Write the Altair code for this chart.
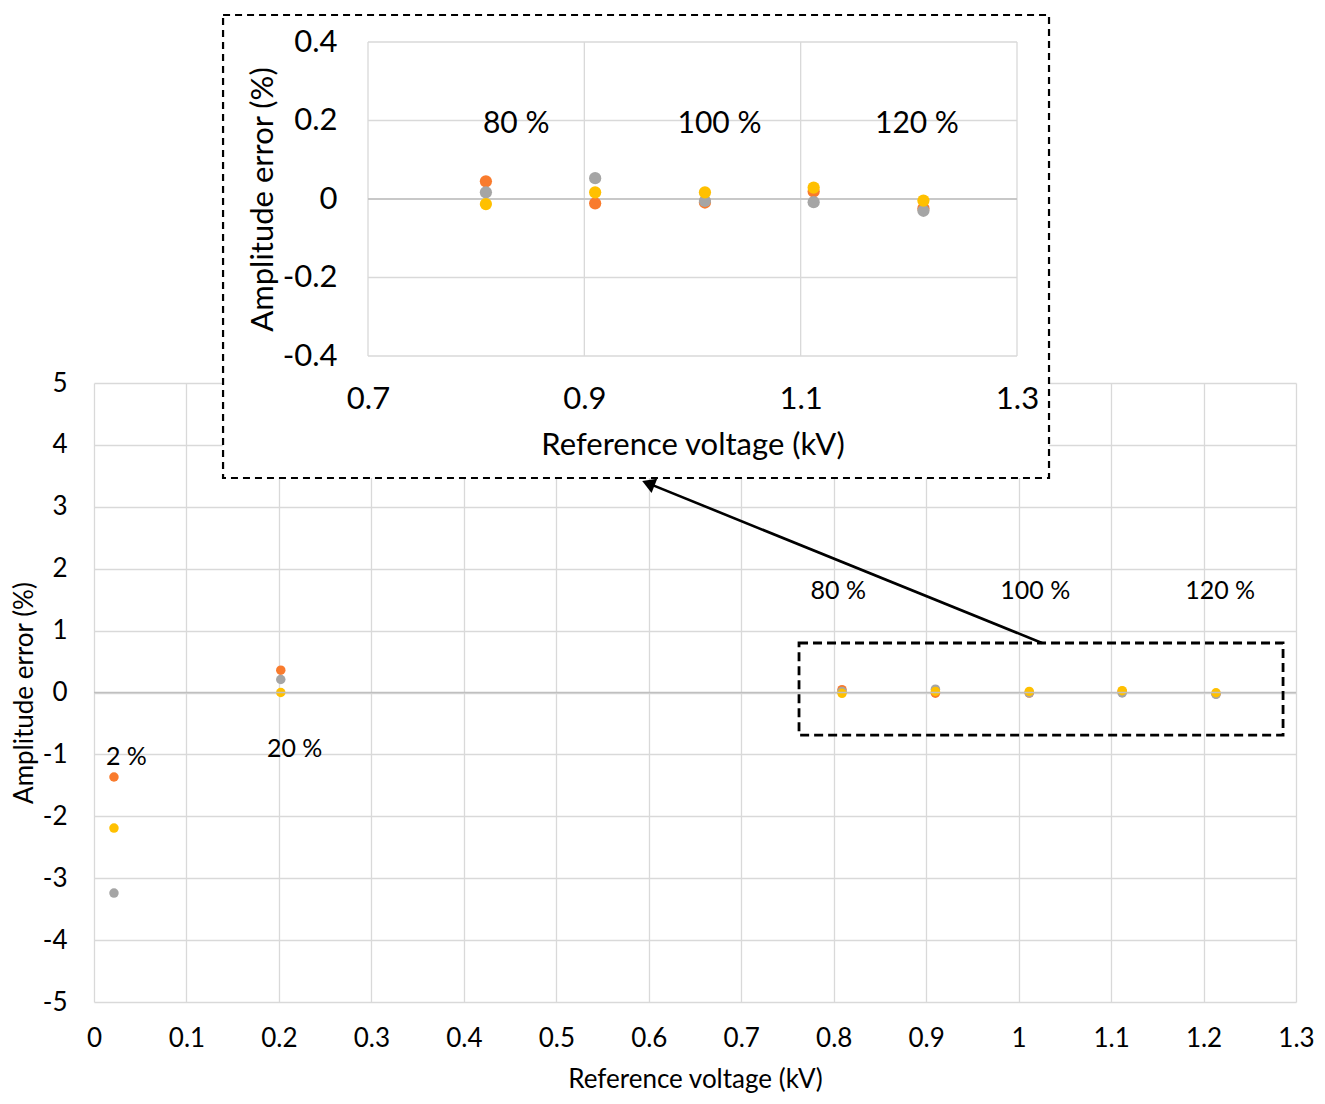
import altair as alt
import pandas as pd

# ---------------- data ----------------
x_kv = [0.0216, 0.202, 0.809, 0.910, 1.0115, 1.112, 1.2135]
err_orange = [-1.365, 0.36, 0.045, -0.011, -0.009, 0.019, -0.024]
err_gray = [-3.24, 0.21, 0.017, 0.053, -0.005, -0.008, -0.030]
err_yellow = [-2.19, 0.00, -0.013, 0.017, 0.017, 0.029, -0.004]
series_names = ["orange", "gray", "yellow"]
series_colors = ["#F97B2D", "#A5A5A5", "#FFC000"]

main_xticks = [round(i * 0.1, 1) for i in range(14)]
main_yticks = [-5, -4, -3, -2, -1, 0, 1, 2, 3, 4, 5]
inset_xticks = [0.7, 0.9, 1.1, 1.3]
inset_yticks = [-0.4, -0.2, 0.0, 0.2, 0.4]

main_labels = ["2 %", "20 %", "80 %", "100 %", "120 %"]
main_label_x = [0.035, 0.217, 0.805, 1.018, 1.218]
main_label_y = [-1.04, -0.91, 1.64, 1.64, 1.64]

inset_labels = ["80 %", "100 %", "120 %"]
inset_label_x = [0.837, 1.025, 1.2075]
inset_label_y = [0.19, 0.19, 0.19]

zoom_box_x = [0.7625, 1.286]
zoom_box_y = [-0.687, 0.80]
arrow_x = [1.0253, 0.5995]
arrow_y = [0.80, 3.378]
inset_box_x = [0.566, 1.3296]
inset_box_y = [-0.7108, 0.4688]

FONT = "Lato"
MAIN_FS = 26
INSET_FS = 31

# ---------------- tables ----------------
rows = []
for name, vals in zip(series_names, [err_orange, err_gray, err_yellow]):
    for xv, yv in zip(x_kv, vals):
        rows.append({"x": xv, "y": yv, "series": name})
pts = pd.DataFrame(rows)
pts_inset = pts[pts["x"] >= 0.7].reset_index(drop=True)

color = alt.Color("series:N", scale=alt.Scale(domain=series_names, range=series_colors), legend=None)
label_fix = "replace(datum.label, '\u2212', '-')"


def MX():
    return alt.Scale(domain=[0, 1.3], nice=False, zero=False)


def MY():
    return alt.Scale(domain=[-5, 5], nice=False, zero=False)


def IX():
    return alt.Scale(domain=[0.7, 1.3], range=[274, 923], nice=False, zero=False)


def IY():
    return alt.Scale(domain=[-0.4, 0.4], range=[-27, -341], nice=False, zero=False)


# ---------------- main chart ----------------
main_points = alt.Chart(pts).mark_circle(size=90, opacity=1).encode(
    x=alt.X("x:Q", scale=MX(), axis=alt.Axis(
        values=main_xticks, format="~g", labelExpr=label_fix, grid=True,
        gridColor="#d9d9d9", gridWidth=1.3, domain=False, ticks=False,
        labelPadding=23, labelFontSize=MAIN_FS, labelFont=FONT, labelColor="#000",
        labelFlush=False, title="Reference voltage (kV)", titleFont=FONT,
        titleFontSize=MAIN_FS, titleFontWeight="normal", titleColor="#000",
        titlePadding=15)),
    y=alt.Y("y:Q", scale=MY(), axis=alt.Axis(
        values=main_yticks, format="~g", labelExpr=label_fix, grid=True,
        gridColor="#d9d9d9", gridWidth=1.3, domain=False, ticks=False,
        labelPadding=27, labelFontSize=MAIN_FS, labelFont=FONT, labelColor="#000",
        labelFlush=False, title="Amplitude error (%)", titleFont=FONT,
        titleFontSize=MAIN_FS, titleFontWeight="normal", titleColor="#000",
        titlePadding=5)),
    color=color,
)

main_zero = alt.Chart(pd.DataFrame({"y": [0]})).mark_rule(color="#bfbfbf", strokeWidth=1.6).encode(
    y=alt.Y("y:Q", scale=MY(), axis=None)
)

main_text = alt.Chart(pd.DataFrame({"x": main_label_x, "y": main_label_y, "t": main_labels})).mark_text(
    font=FONT, fontSize=25, color="#000", align="center", baseline="middle"
).encode(x=alt.X("x:Q", scale=MX(), axis=None), y=alt.Y("y:Q", scale=MY(), axis=None), text="t:N")

zoom_box = alt.Chart(pd.DataFrame({"x": [zoom_box_x[0]], "x2": [zoom_box_x[1]],
                                   "y": [zoom_box_y[0]], "y2": [zoom_box_y[1]]})).mark_rect(
    fillOpacity=0, stroke="#000", strokeWidth=2.8, strokeDash=[9, 5]
).encode(x=alt.X("x:Q", scale=MX(), axis=None), x2="x2:Q",
         y=alt.Y("y:Q", scale=MY(), axis=None), y2="y2:Q")

arrow_line = alt.Chart(pd.DataFrame({"x": [arrow_x[0]], "x2": [arrow_x[1]],
                                     "y": [arrow_y[0]], "y2": [arrow_y[1]]})).mark_rule(
    color="#000", strokeWidth=2.6
).encode(x=alt.X("x:Q", scale=MX(), axis=None), x2="x2:Q",
         y=alt.Y("y:Q", scale=MY(), axis=None), y2="y2:Q")

arrow_head = alt.Chart(pd.DataFrame({"x": [arrow_x[1]], "y": [arrow_y[1]]})).mark_point(
    shape="triangle-up", filled=True, color="#000", opacity=1, size=230, angle=292
).encode(x=alt.X("x:Q", scale=MX(), axis=None), y=alt.Y("y:Q", scale=MY(), axis=None))

# ---------------- inset ----------------
inset_bg = alt.Chart(pd.DataFrame({"x": [inset_box_x[0]], "x2": [inset_box_x[1]],
                                   "y": [inset_box_y[0]], "y2": [inset_box_y[1]]})).mark_rect(
    fill="#ffffff", stroke="#000", strokeWidth=2.2, strokeDash=[7, 5]
).encode(x=alt.X("x:Q", scale=IX(), axis=None), x2="x2:Q",
         y=alt.Y("y:Q", scale=IY(), axis=None), y2="y2:Q")

vgrid_df = pd.DataFrame({"x": inset_xticks, "y": [inset_yticks[0]] * len(inset_xticks),
                         "y2": [inset_yticks[-1]] * len(inset_xticks)})
inset_vgrid = alt.Chart(vgrid_df).mark_rule(color="#d9d9d9", strokeWidth=1.3).encode(
    x=alt.X("x:Q", scale=IX(), axis=None),
    y=alt.Y("y:Q", scale=IY(), axis=None), y2="y2:Q"
)
hgrid_df = pd.DataFrame({"y": inset_yticks, "x": [inset_xticks[0]] * len(inset_yticks),
                         "x2": [inset_xticks[-1]] * len(inset_yticks)})
inset_hgrid = alt.Chart(hgrid_df).mark_rule(color="#d9d9d9", strokeWidth=1.3).encode(
    y=alt.Y("y:Q", scale=IY(), axis=None),
    x=alt.X("x:Q", scale=IX(), axis=None), x2="x2:Q"
)
zero_df = pd.DataFrame({"y": [0.0], "x": [inset_xticks[0]], "x2": [inset_xticks[-1]]})
inset_zero = alt.Chart(zero_df).mark_rule(color="#bfbfbf", strokeWidth=1.6).encode(
    y=alt.Y("y:Q", scale=IY(), axis=None),
    x=alt.X("x:Q", scale=IX(), axis=None), x2="x2:Q"
)

inset_points = alt.Chart(pts_inset).mark_circle(size=150, opacity=1).encode(
    x=alt.X("x:Q", scale=IX(), axis=alt.Axis(
        orient="bottom", offset=-646, values=inset_xticks, format="~g", labelExpr=label_fix,
        grid=False, domain=False, ticks=False, labelPadding=28, labelFontSize=INSET_FS,
        labelFont=FONT, labelColor="#000", labelFlush=False, zindex=2,
        title="Reference voltage (kV)", titleFont=FONT, titleFontSize=INSET_FS,
        titleFontWeight="normal", titleColor="#000", titlePadding=16)),
    y=alt.Y("y:Q", scale=IY(), axis=alt.Axis(
        orient="left", offset=-274, values=inset_yticks, format="~g", labelExpr=label_fix,
        grid=False, domain=False, ticks=False, labelPadding=31, labelFontSize=INSET_FS,
        labelFont=FONT, labelColor="#000", labelFlush=False, zindex=2,
        title="Amplitude error (%)", titleFont=FONT, titleFontSize=INSET_FS,
        titleFontWeight="normal", titleColor="#000", titlePadding=3)),
    color=color,
)

inset_text = alt.Chart(pd.DataFrame({"x": inset_label_x, "y": inset_label_y, "t": inset_labels})).mark_text(
    font=FONT, fontSize=30, color="#000", align="center", baseline="middle"
).encode(x=alt.X("x:Q", scale=IX(), axis=None), y=alt.Y("y:Q", scale=IY(), axis=None), text="t:N")

chart = alt.layer(
    main_points, main_zero, main_text, zoom_box, arrow_line, arrow_head,
    inset_bg, inset_vgrid, inset_hgrid, inset_zero, inset_points, inset_text,
).resolve_scale(x="independent", y="independent").properties(
    width=1202, height=619,
    autosize=alt.AutoSizeParams(type="none"),
    padding={"left": 86, "top": 375, "right": 21, "bottom": 94},
    background="#ffffff",
).configure_view(strokeWidth=0)

chart.save("out.html", embed_options={"renderer": "svg", "actions": False})
